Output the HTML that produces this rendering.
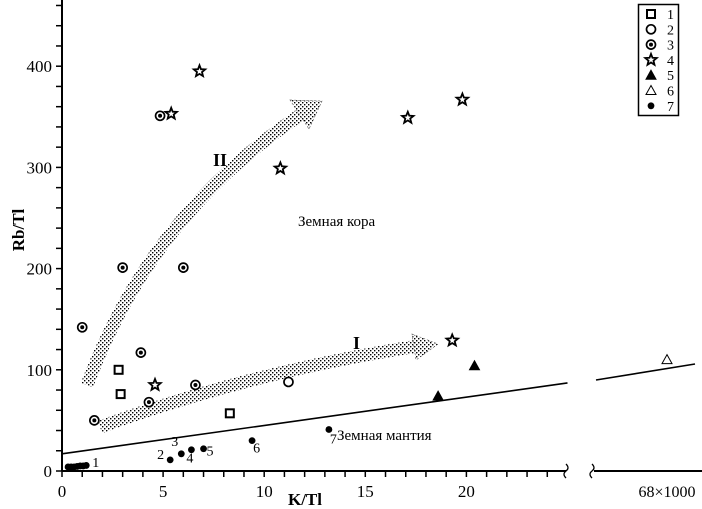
<!DOCTYPE html>
<html><head><meta charset="utf-8">
<style>
html,body{margin:0;padding:0;background:#fff;}
svg{display:block;font-family:"Liberation Serif","Noto Serif CJK SC",serif;}
</style></head>
<body>
<svg id="chart" width="702" height="509" viewBox="0 0 702 509">
<defs>
<pattern id="dots" width="4" height="4" patternUnits="userSpaceOnUse">
<rect x="0" y="0" width="1.4" height="1.4" fill="#000"/>
<rect x="2" y="2" width="1.4" height="1.4" fill="#000"/>
</pattern>
</defs>
<g id="axes"></g>
<g id="marks"></g>
</svg>
<script>
const xTicks=[0,5,10,15,20];
const yTicks=[0,100,200,300,400];
const sq=[[2.8,100],[2.9,76],[8.3,57]];
const circ=[[11.2,88]];
const circDot=[[4.85,351],[1,142],[3,201],[6,201],[3.9,117],[4.3,68],[6.6,85],[1.6,50]];
const stars=[[5.4,353],[6.8,395],[10.8,299],[17.1,349],[19.8,367],[19.3,129],[4.6,85]];
const triF=[[18.6,74],[20.4,104]];
const triO=[[68,110]];
const dotsD=[[5.35,11],[5.9,17],[6.4,21],[7.0,22],[9.4,30],[13.2,41]];
const dotLabels=["2","3","4","5","6","7"];
const cluster=[[0.3,4],[0.45,4],[0.6,4],[0.75,4.5],[0.9,5],[1.05,5],[1.2,5.5]];
const legendLabels=["1","2","3","4","5","6","7"];

const NS="http://www.w3.org/2000/svg";
const X=v=>62+v*20.22;
const XB=v=>667+(v-68)*20;
const Y=v=>471-v*1.012;
function el(t,a,p){const e=document.createElementNS(NS,t);for(const k in a)e.setAttribute(k,a[k]);(p||document.getElementById('marks')).appendChild(e);return e;}
const ax=document.getElementById('axes');
let e;
e=el('line',{x1:62,y1:0,x2:62,y2:471,stroke:'#000','stroke-width':2},ax);


e=el('line',{x1:62,y1:471,x2:566,y2:471,stroke:'#000','stroke-width':2},ax);


e=el('line',{x1:594,y1:471,x2:702,y2:471,stroke:'#000','stroke-width':2},ax);


e=el('path',{d:'M566,464 q4,4 0,7 q-4,3 0,7 M592,464 q4,4 0,7 q-4,3 0,7',fill:'none',stroke:'#000','stroke-width':1.3},ax);


for(let i=0;i<=24;i++){el('line',{x1:X(i),y1:471,x2:X(i),y2:477,stroke:'#000','stroke-width':1.5},ax);}
for(let i=0;i<=460;i+=20){el('line',{x1:56,y1:Y(i),x2:62,y2:Y(i),stroke:'#000','stroke-width':1.5},ax);}
xTicks.forEach(t=>{const s=el('text',{x:X(t),y:497,'text-anchor':'middle','font-size':17},ax);s.textContent=t;

});
yTicks.forEach(t=>{const s=el('text',{x:52,y:Y(t)+6,'text-anchor':'end','font-size':17},ax);s.textContent=t;

});
e=el('text',{x:XB(68),y:497,'text-anchor':'middle','font-size':16},ax);e.textContent='68×1000';


e=el('text',{x:305,y:505,'text-anchor':'middle','font-size':17,'font-weight':'bold'},ax);e.textContent='K/Tl';


e=el('text',{x:0,y:0,'text-anchor':'middle','font-size':17,'font-weight':'bold',transform:'translate(24,230) rotate(-90)'},ax);e.textContent='Rb/Tl';



e=el('line',{x1:X(0),y1:Y(17),x2:X(25),y2:Y(87),stroke:'#000','stroke-width':1.6});


e=el('line',{x1:596,y1:380,x2:695,y2:364,stroke:'#000','stroke-width':1.6});



e=el('path',{d:'M87,385 Q150,215 300,115',fill:'none',stroke:'url(#dots)','stroke-width':13});


e=el('path',{d:'M290,100 L322,101 L309,129 Z',fill:'url(#dots)',stroke:'#555','stroke-width':0.6,'stroke-dasharray':'2 2'});


e=el('path',{d:'M100,427 Q250,372 418,346',fill:'none',stroke:'url(#dots)','stroke-width':13});


e=el('path',{d:'M412,334 L438,344 L416,360 Z',fill:'url(#dots)',stroke:'#555','stroke-width':0.6,'stroke-dasharray':'2 2'});



const labs=[['II',213,166,18,'bold','trend-label-ii'],['I',353,349,18,'bold','trend-label-i'],['Земная кора',298,226,15,'normal','crust-label'],['Земная мантия',337,440,15,'normal','mantle-label']];
labs.forEach(l=>{const s=el('text',{x:l[1],y:l[2],'font-size':l[3],'font-weight':l[4],'text-anchor':'start'});s.textContent=l[0];

});

function square(x,y,p){return el('rect',{x:x-4,y:y-4,width:8,height:8,fill:'#fff',stroke:'#000','stroke-width':2},p);}
function circle(x,y,p){return el('circle',{cx:x,cy:y,r:4.5,fill:'#fff',stroke:'#000','stroke-width':1.7},p);}
function circleDot(x,y,p){const g=el('g',{},p);el('circle',{cx:x,cy:y,r:4.5,fill:'#fff',stroke:'#000','stroke-width':1.7},g);el('circle',{cx:x,cy:y,r:2,fill:'#000'},g);return g;}
function star(x,y,p){let d='';for(let i=0;i<10;i++){const r=i%2?2.6:6;const a=-Math.PI/2+i*Math.PI/5;d+=(i?'L':'M')+(x+r*Math.cos(a)).toFixed(1)+','+(y+r*Math.sin(a)).toFixed(1);}return el('path',{d:d+'Z',fill:'#fff',stroke:'#000','stroke-width':1.8},p);}
function tri(x,y,f,p){return el('path',{d:`M${x},${y-5}L${x+5},${y+4}L${x-5},${y+4}Z`,fill:f?'#000':'#fff',stroke:'#000','stroke-width':1},p);}
function dot(x,y,p){return el('circle',{cx:x,cy:y,r:3.4,fill:'#000'},p);}

sq.forEach(d=>{const m=square(X(d[0]),Y(d[1]));});
circ.forEach(d=>{const m=circle(X(d[0]),Y(d[1]));});
circDot.forEach(d=>{const m=circleDot(X(d[0]),Y(d[1]));});
stars.forEach(d=>{const m=star(X(d[0]),Y(d[1]));});
triF.forEach(d=>{const m=tri(X(d[0]),Y(d[1]),true);});
triO.forEach(d=>{const m=tri(XB(d[0]),Y(d[1]),false);});
dotsD.forEach((d,i)=>{const m=dot(X(d[0]),Y(d[1]));
const offs=[[-13,-1],[-10,-8],[-5,13],[3,7],[1,12],[1,14]];
const t=el('text',{x:X(d[0])+offs[i][0],y:Y(d[1])+offs[i][1],'font-size':14});t.textContent=dotLabels[i];

});
cluster.forEach(d=>{const m=dot(X(d[0]),Y(d[1]));});
e=el('text',{x:X(1.4)+2,y:Y(5)+1,'font-size':14});e.textContent='1';



const lg=el('g',{});


el('rect',{x:638.5,y:4.5,width:40,height:111,fill:'#fff',stroke:'#000','stroke-width':1.5},lg);
const fns=[(x,y)=>square(x,y,lg),(x,y)=>circle(x,y,lg),(x,y)=>circleDot(x,y,lg),(x,y)=>star(x,y,lg),(x,y)=>tri(x,y,true,lg),(x,y)=>tri(x,y,false,lg),(x,y)=>dot(x,y,lg)];
legendLabels.forEach((l,i)=>{const y=14+i*15.3;const m=fns[i](651,y);
const t=el('text',{x:667,y:y+5,'font-size':14},lg);t.textContent=l;

});
</script>
</body></html>
